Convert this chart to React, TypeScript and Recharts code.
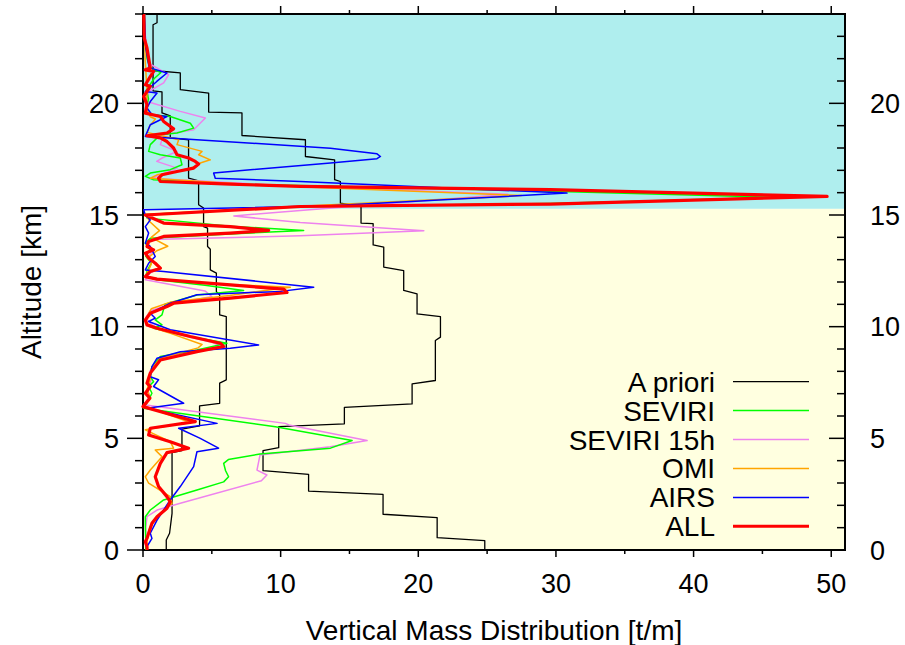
import React from 'react';
import { ScatterChart, Scatter, XAxis, YAxis, ReferenceArea, Legend } from 'recharts';

const FONT = '"Liberation Sans", Arial, Helvetica, sans-serif';

// ---- layout (pixels) ----
const CHART_W = 905;
const CHART_H = 645;
const MARGIN = { top: 14, right: 60, bottom: 0, left: 0 };
const Y_AXIS_W = 143;
const X_AXIS_H = 95;
const PLOT_W = CHART_W - MARGIN.left - Y_AXIS_W - MARGIN.right;
const PLOT_H = CHART_H - MARGIN.top - X_AXIS_H - MARGIN.bottom;

// ---- axes ----
const xDomain = [0, 51];
const yDomain = [0, 24];
const xTicks = [0, 5, 10, 15, 20, 25, 30, 35, 40, 45, 50];
const yTicks = [0, 1, 2, 3, 4, 5, 6, 7, 8, 9, 10, 11, 12, 13, 14, 15, 16, 17, 18, 19, 20, 21, 22, 23, 24];
const xTitle = 'Vertical Mass Distribution [t/m]';
const yTitle = 'Altitude [km]';
const tropopauseKm = 15.28; // boundary between the two shaded layers

// ---- series: [value t/m, altitude km] in drawing order ----
const aPriori: [number, number][] = [
  [24.83, 0], [24.83, 0.42], [21.37, 0.55], [21.37, 1.45], [17.44, 1.6], [17.44, 2.49], [12.03, 2.64], [12.03, 3.39],
  [8.72, 3.55], [8.72, 4.45], [9.86, 4.58], [9.86, 5.52], [14.63, 5.65], [14.63, 6.39], [19.55, 6.54], [19.55, 7.44],
  [21.24, 7.59], [21.24, 9.38], [21.61, 9.53], [21.61, 10.45], [19.91, 10.57], [19.91, 11.47], [18.94, 11.62], [18.94, 12.51],
  [17.49, 12.67], [17.49, 13.56], [16.72, 13.66], [16.72, 14.61], [15.84, 14.64], [15.84, 15.38], [14.34, 15.53], [14.34, 16.5],
  [13.92, 16.58], [13.92, 17.47], [11.8, 17.62], [11.8, 18.37], [7.19, 18.56], [7.19, 19.57], [4.77, 19.61], [4.77, 20.46],
  [2.71, 20.61], [2.71, 21.36], [0.73, 21.47], [0.73, 23.52], [1.02, 23.61], [1.02, 24.0],
  [1.02, 23.61], [0.73, 23.52], [0.73, 20.56], [1.38, 20.51], [1.38, 19.57], [1.98, 19.44], [1.98, 18.45], [3.31, 18.37],
  [3.31, 16.65], [4.04, 16.53], [4.04, 15.46], [4.4, 15.31], [4.4, 14.48], [4.69, 14.41], [4.69, 13.59], [4.89, 13.47],
  [4.89, 12.54], [5.33, 12.4], [5.33, 11.57], [5.57, 11.42], [5.57, 10.53], [6.05, 10.45], [6.05, 7.62], [5.57, 7.47],
  [5.57, 6.57], [4.11, 6.45], [4.11, 5.56], [2.83, 5.41], [2.83, 4.45], [2.11, 4.36], [2.11, 1.64], [1.93, 0.75],
  [1.69, 0.45], [1.69, 0],
];

const seviri15h: [number, number][] = [
  [0.1, 24], [0.2, 22.6], [0.4, 21.8], [1.86, 21.28], [1.5, 20.92], [0.41, 20.53], [0.29, 20.08], [2.71, 19.64],
  [4.53, 19.34], [3.68, 18.82], [1.5, 18.59], [1.26, 18.15], [2.47, 17.85], [1.38, 17.55], [1.0, 17.4], [2.47, 17.1],
  [1.5, 16.85], [0.6, 16.65], [10, 16.32], [26.5, 15.93], [11.43, 15.2], [6.6, 14.96], [11.43, 14.66], [20.4, 14.3],
  [11.43, 14.07], [0.53, 13.9], [0.3, 13.7], [0.8, 13.4], [0.3, 13.1], [1.0, 12.8], [1.2, 12.6], [0.5, 12.4],
  [0.17, 12.1], [4.5, 11.6], [5.0, 11.35], [2.0, 11.0], [0.5, 10.7], [0.2, 10.4], [0.6, 10.1], [1.5, 9.8],
  [5.0, 9.3], [5.6, 9.15], [3.5, 8.9], [1.0, 8.5], [0.5, 8.0], [0.6, 7.6], [0.3, 7.2], [0.5, 6.9],
  [0.05, 6.5], [10.34, 5.67], [10.6, 5.6], [16.28, 4.9], [13.6, 4.62], [8.5, 4.25], [8.28, 3.58], [9.0, 3.36],
  [8.6, 3.1], [2.71, 2.09], [1.02, 1.79], [0.29, 1.49], [0.2, 1.0], [0.2, 0],
];

const seviri: [number, number][] = [
  [0.1, 24], [0.15, 22.8], [0.3, 22.0], [0.5, 21.6], [1.3, 21.38], [0.8, 21.1], [0.25, 20.6], [0.4, 20.2],
  [0.2, 19.7], [0.5, 19.5], [1.98, 19.41], [3.44, 19.11], [3.68, 18.89], [2.47, 18.67], [1.26, 18.59], [0.53, 18.15],
  [0.41, 17.85], [1.26, 17.7], [2.71, 17.55], [2.83, 17.25], [1.98, 17.03], [0.53, 16.88], [0.17, 16.73], [0.77, 16.58],
  [6.0, 16.4], [28.9, 16.08], [46.2, 15.79], [29.6, 15.52], [11.4, 15.37], [0.2, 15.02], [0.29, 14.86], [6.3, 14.5],
  [11.67, 14.31], [6.3, 14.15], [0.53, 13.96], [0.17, 13.74], [0.5, 13.45], [0.2, 13.15], [0.6, 12.85], [0.3, 12.5],
  [0.2, 12.25], [1.0, 12.1], [4.5, 11.85], [7.31, 11.62], [3.92, 11.42], [1.6, 11.0], [1.38, 10.53], [0.89, 10.3],
  [1.38, 10.08], [0.77, 9.93], [3.5, 9.55], [6.1, 9.26], [3.92, 8.96], [1.26, 8.66], [0.65, 8.21], [0.53, 7.76],
  [0.77, 7.54], [0.41, 7.32], [0.65, 7.02], [0.41, 6.72], [0.05, 6.35], [9.62, 5.52], [15.19, 4.9], [13.62, 4.56],
  [8.5, 4.3], [6.2, 4.05], [5.86, 3.88], [6.0, 3.55], [6.22, 3.28], [5.86, 3.05], [3.92, 2.69], [1.5, 2.24],
  [0.53, 1.79], [0.17, 1.49], [0.17, 1.04], [0.2, 0.5], [0.2, 0],
];

const omi: [number, number][] = [
  [0.1, 24], [0.15, 22], [0.3, 20.5], [0.2, 19.8], [0.53, 19.4], [0.9, 19.3], [0.5, 19.0], [0.3, 18.7],
  [2.59, 18.37], [2.47, 18.15], [4.29, 17.85], [4.04, 17.7], [4.89, 17.47], [4.16, 17.33], [3.92, 17.18], [2.47, 16.95],
  [1.02, 16.8], [0.53, 16.65], [8, 16.35], [27.5, 15.87], [10, 15.35], [0.2, 15.02], [0.5, 14.7], [1.2, 14.3],
  [0.6, 14.0], [1.8, 13.6], [1.0, 13.4], [0.4, 13.1], [0.6, 12.8], [0.3, 12.4], [0.2, 12.2], [4.0, 11.95],
  [10.7, 11.77], [6.3, 11.4], [2.0, 11.1], [0.6, 10.8], [0.17, 10.3], [0.5, 10.0], [2.0, 9.7], [4.29, 9.2],
  [4.0, 9.05], [1.3, 8.6], [0.6, 8.1], [0.5, 7.6], [0.3, 7.2], [0.5, 6.8], [0.1, 6.45], [3.4, 5.72],
  [0.17, 5.38], [1.98, 4.85], [2.22, 4.56], [0.89, 4.48], [1.38, 4.18], [0.53, 3.58], [0.17, 3.28], [0.41, 2.99],
  [1.98, 2.39], [2.11, 2.09], [1.5, 1.79], [0.89, 1.34], [0.53, 1.04], [0.29, 0.6], [0.3, 0],
];

const airs: [number, number][] = [
  [0.1, 24], [0.2, 22.5], [0.45, 21.6], [1.74, 21.36], [1.0, 20.98], [0.17, 20.53], [1.02, 20.46], [0.53, 20.08],
  [0.29, 19.79], [0.65, 19.49], [1.74, 19.41], [0.53, 19.04], [0.17, 18.52], [13.62, 17.99], [17.0, 17.74], [17.25, 17.62],
  [17.0, 17.52], [13.62, 17.33], [5.13, 16.88], [5.25, 16.65], [11.43, 16.5], [30.8, 15.98], [13.62, 15.41], [0.05, 15.23],
  [0.17, 15.0], [0.53, 14.78], [0.17, 14.48], [0.41, 14.19], [0.17, 13.74], [0.53, 13.59], [0.89, 13.14], [0.41, 12.84],
  [0.17, 12.54], [1.5, 12.47], [12.4, 11.77], [10.0, 11.58], [3.92, 11.43], [1.98, 11.05], [1.5, 10.9], [0.53, 10.6],
  [0.89, 10.38], [0.41, 10.23], [1.98, 9.86], [8.4, 9.18], [6.34, 9.03], [2.71, 8.88], [1.02, 8.59], [0.65, 8.21],
  [0.53, 7.76], [1.13, 7.62], [0.77, 7.32], [2.95, 6.57], [0.29, 6.35], [5.38, 5.67], [2.59, 5.45], [4.16, 5.0],
  [5.49, 4.56], [3.92, 4.4], [3.68, 3.73], [2.71, 2.84], [1.98, 2.24], [1.5, 1.79], [1.02, 1.34], [0.53, 0.75],
  [0.65, 0.52], [0.29, 0.15], [0.3, 0],
];

const all: [number, number][] = [
  [0.05, 24.0], [0.09, 22.92], [0.29, 22.48], [0.53, 21.58], [0.17, 21.5], [0.77, 21.43], [0.53, 21.2], [0.17, 20.83],
  [0.53, 20.76], [0.05, 20.31], [0.29, 19.94], [0.17, 19.56], [1.26, 19.41], [1.5, 19.19], [2.22, 18.86], [1.74, 18.67],
  [0.29, 18.55], [1.26, 18.45], [1.74, 18.29], [2.22, 18.0], [2.47, 17.7], [3.31, 17.55], [3.8, 17.4], [4.04, 17.28],
  [3.68, 17.1], [2.47, 16.95], [1.38, 16.8], [1.13, 16.65], [1.26, 16.5], [6.34, 16.38], [11.43, 16.28], [29.6, 16.14],
  [49.7, 15.83], [29.6, 15.49], [11.43, 15.38], [0.17, 15.0], [1.5, 14.64], [6.34, 14.48], [9.13, 14.31], [6.34, 14.19],
  [1.5, 14.04], [0.41, 13.81], [0.29, 13.59], [0.77, 13.44], [0.17, 13.29], [0.41, 13.07], [0.89, 12.84], [1.26, 12.62],
  [0.53, 12.47], [0.17, 12.24], [1.02, 12.13], [6.34, 11.87], [10.22, 11.68], [10.46, 11.53], [6.34, 11.28], [2.22, 11.05],
  [1.74, 10.9], [0.53, 10.6], [0.17, 10.3], [0.29, 10.08], [1.02, 9.93], [3.44, 9.56], [5.62, 9.26], [5.86, 9.11],
  [3.92, 8.88], [1.26, 8.51], [0.53, 7.92], [0.29, 7.47], [0.53, 7.32], [0.17, 7.02], [0.5, 6.8], [0.0, 6.42],
  [3.8, 5.75], [0.53, 5.45], [0.41, 5.15], [1.98, 4.85], [3.31, 4.56], [1.74, 4.36], [1.26, 3.88], [0.89, 3.28],
  [1.13, 2.84], [1.74, 2.39], [1.98, 2.16], [1.74, 1.87], [1.02, 1.49], [0.65, 1.2], [0.41, 0.75], [0.29, 0.52],
  [0.17, 0.37], [0.29, 0.15], [0.3, 0],
];

type Series = { name: string; color: string; width: number; data: [number, number][] };

// drawing order (bottom to top)
const drawOrder: Series[] = [
  { name: 'A priori', color: '#000000', width: 1.3, data: aPriori },
  { name: 'SEVIRI 15h', color: '#EE82EE', width: 1.5, data: seviri15h },
  { name: 'SEVIRI', color: '#00FF00', width: 1.5, data: seviri },
  { name: 'OMI', color: '#FFA500', width: 1.5, data: omi },
  { name: 'AIRS', color: '#0000FF', width: 1.5, data: airs },
  { name: 'ALL', color: '#FF0000', width: 3.2, data: all },
];

const legendOrder = ['A priori', 'SEVIRI', 'SEVIRI 15h', 'OMI', 'AIRS', 'ALL'];

const toPoints = (arr: [number, number][]) => arr.map(([v, h]) => ({ v, h }));

const NoShape = () => <g />;

// bottom axis tick + mirrored top tick (outward)
const BottomTick = (props: any) => {
  const { x, y, payload } = props;
  const val = payload.value;
  const major = val % 10 === 0;
  const top = y - PLOT_H;
  return (
    <g>
      <line x1={x} x2={x} y1={y} y2={y + (major ? 7 : 4)} stroke="#000" strokeWidth={1.5} />
      <line x1={x} x2={x} y1={top - (major ? 8 : 4)} y2={top} stroke="#000" strokeWidth={1.5} />
      {major && (
        <text x={x} y={y + 43} textAnchor="middle" fontFamily={FONT} fontSize={27} fill="#000">
          {val}
        </text>
      )}
    </g>
  );
};

// left axis tick (outward) + mirrored right tick (inward) with label
const LeftTick = (props: any) => {
  const { x, y, payload } = props;
  const val = payload.value;
  const major = val % 5 === 0;
  const right = x + PLOT_W;
  const len = major ? 16 : 8;
  return (
    <g>
      <line x1={x - len} x2={x} y1={y} y2={y} stroke="#000" strokeWidth={1.5} />
      <line x1={right - len} x2={right} y1={y} y2={y} stroke="#000" strokeWidth={1.5} />
      {major && (
        <text x={x - 24} y={y + 9.7} textAnchor="end" fontFamily={FONT} fontSize={27} fill="#000">
          {val}
        </text>
      )}
      {major && (
        <text x={right + 25} y={y + 9.7} textAnchor="start" fontFamily={FONT} fontSize={27} fill="#000">
          {val}
        </text>
      )}
    </g>
  );
};

const XTitle = (props: any) => {
  const vb = props.viewBox;
  return (
    <text x={vb.x + vb.width / 2} y={vb.y + 90} textAnchor="middle" fontFamily={FONT} fontSize={28} fill="#000">
      {xTitle}
    </text>
  );
};

const YTitle = (props: any) => {
  const vb = props.viewBox;
  const cx = vb.x + 31;
  const cy = vb.y + vb.height / 2;
  return (
    <text
      x={cx}
      y={cy}
      transform={`rotate(-90, ${cx}, ${cy})`}
      textAnchor="middle"
      dominantBaseline="central"
      fontFamily={FONT}
      fontSize={28}
      fill="#000"
    >
      {yTitle}
    </text>
  );
};

const LegendContent = () => {
  const rows = legendOrder.map((n) => drawOrder.find((s) => s.name === n)!);
  return (
    <svg width={CHART_W} height={CHART_H} style={{ display: 'block', pointerEvents: 'none' }}>
      {rows.map((s, i) => {
        const cy = 381.7 + i * 28.92;
        return (
          <g key={s.name}>
            <text x={715} y={cy + 10} textAnchor="end" fontFamily={FONT} fontSize={28} fill="#000">
              {s.name}
            </text>
            <line x1={733} x2={809} y1={cy} y2={cy} stroke={s.color} strokeWidth={s.width > 2 ? 3 : s.width} />
          </g>
        );
      })}
    </svg>
  );
};

export default function App() {
  return (
    <div style={{ position: 'absolute', left: 0, top: 0, width: CHART_W, height: CHART_H, background: '#fff' }}>
      <ScatterChart width={CHART_W} height={CHART_H} margin={MARGIN}>
        <XAxis
          xAxisId="b"
          type="number"
          dataKey="v"
          orientation="bottom"
          domain={xDomain}
          ticks={xTicks}
          interval={0}
          height={X_AXIS_H}
          tickSize={0}
          tickMargin={0}
          tickLine={false}
          tick={<BottomTick />}
          axisLine={{ stroke: '#000', strokeWidth: 2 }}
          label={<XTitle />}
        />
        <YAxis
          yAxisId="l"
          type="number"
          dataKey="h"
          orientation="left"
          domain={yDomain}
          ticks={yTicks}
          interval={0}
          width={Y_AXIS_W}
          tickSize={0}
          tickMargin={0}
          tickLine={false}
          tick={<LeftTick />}
          axisLine={{ stroke: '#000', strokeWidth: 2 }}
          label={<YTitle />}
        />
        <ReferenceArea
          xAxisId="b"
          yAxisId="l"
          x1={xDomain[0]}
          x2={xDomain[1]}
          y1={yDomain[0]}
          y2={tropopauseKm}
          fill="#FFFFE0"
          fillOpacity={1}
          stroke="none"
        />
        <ReferenceArea
          xAxisId="b"
          yAxisId="l"
          x1={xDomain[0]}
          x2={xDomain[1]}
          y1={tropopauseKm}
          y2={yDomain[1]}
          fill="#AFEEEE"
          fillOpacity={1}
          stroke="none"
        />
        <ReferenceArea
          xAxisId="b"
          yAxisId="l"
          x1={xDomain[0]}
          x2={xDomain[1]}
          y1={yDomain[0]}
          y2={yDomain[1]}
          fill="none"
          fillOpacity={0}
          stroke="#000"
          strokeWidth={2}
        />
        {drawOrder.map((s) => (
          <Scatter
            key={s.name}
            name={s.name}
            xAxisId="b"
            yAxisId="l"
            data={toPoints(s.data)}
            fill={s.color}
            line={{ stroke: s.color, strokeWidth: s.width, strokeLinejoin: 'round' }}
            lineType="joint"
            shape={<NoShape />}
            legendType="none"
            isAnimationActive={false}
          />
        ))}
        <Legend
          layout="horizontal"
          verticalAlign="middle"
          align="center"
          content={<LegendContent />}
          wrapperStyle={{ left: 0, top: 0, width: CHART_W, height: CHART_H, pointerEvents: 'none' }}
        />
      </ScatterChart>
    </div>
  );
}
